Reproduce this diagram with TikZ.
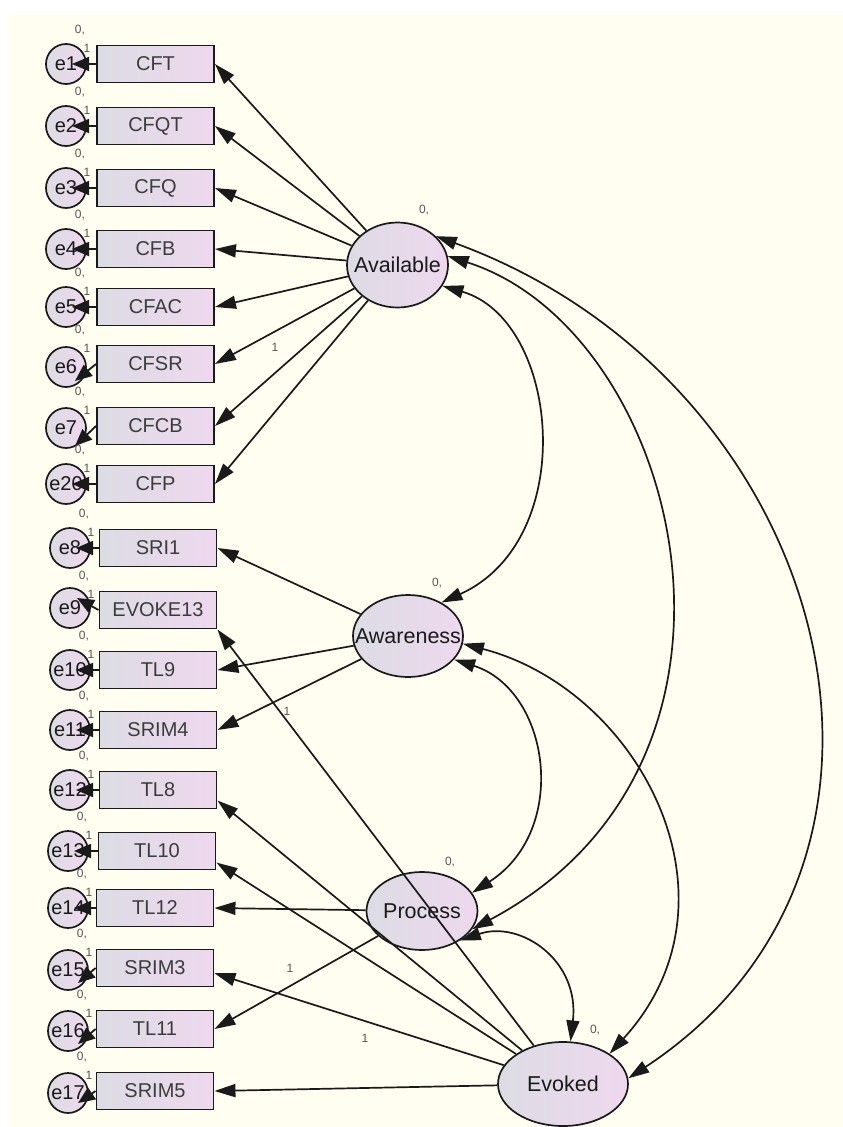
\documentclass[tikz,border=0pt]{standalone}
\usepackage{fontspec}
\setmainfont{Liberation Sans}
\usetikzlibrary{arrows.meta,shapes.geometric}
\definecolor{bg}{HTML}{FFFEF0}
\definecolor{boxL}{HTML}{DCDCE4}
\definecolor{boxR}{HTML}{EED8EE}
\definecolor{ink}{HTML}{1A1A1A}
\definecolor{lab}{HTML}{555555}
\tikzset{
  obs/.style={draw=ink, line width=1.9pt, left color=boxL, right color=boxR,
    minimum width=117pt, minimum height=37pt, inner sep=0pt,
    font=\fontsize{20}{20}\selectfont, text=ink!85},
  lat/.style={ellipse, draw=ink, line width=1.7pt, left color=boxL, right color=boxR,
    inner sep=0pt, font=\fontsize{21.5}{21.5}\selectfont, text=ink},
  err/.style={circle, draw=ink, line width=1.7pt, left color=boxL, right color=boxR,
    minimum size=40pt, inner sep=0pt, font=\fontsize{20}{20}\selectfont, text=ink},
  reg/.style={draw=ink, line width=1.7pt, -{Triangle[length=21pt,width=13pt]}},
  cov/.style={draw=ink, line width=1.7pt,
    {Triangle[length=21pt,width=13pt]}-{Triangle[length=21pt,width=13pt]}},
  errarr/.style={draw=ink, line width=1.8pt, -{Triangle[length=17pt,width=14pt]}},
  sm/.style={font=\fontsize{12}{12}\selectfont, text=lab, inner sep=0pt},
}
\begin{document}
\begin{tikzpicture}[x=1pt,y=-1pt]
\useasboundingbox (0,0) rectangle (843,1127);
\fill[white] (0,0) rectangle (843,1127);
\fill[bg] (8,15) rectangle (843,1127);

% observed variables with their error terms
\foreach \n/\t/\x/\y/\ex/\ey/\tx/\ty/\e in {
  CFT/CFT/155.5/64/66/64/72/64/e1,
  CFQT/CFQT/155.5/126/66/126/72/126/e2,
  CFQ/CFQ/155.5/188/66/188/72/188/e3,
  CFB/CFB/155.5/249/66/249/72/249/e4,
  CFAC/CFAC/155.5/307/66/307/72/307/e5,
  CFSR/CFSR/155.5/364/66/367/75/381/e6,
  CFCB/CFCB/155.5/426/66/428/75/446/e7,
  CFP/CFP/155.5/484/66/484/72/484/e20,
  SRI1/SRI1/158/548/70/548/76/548/e8,
  EVOKE13/EVOKE13/158/610/70/608/77/598/e9,
  TL9/TL9/158/670/70/670/76/670/e10,
  SRIM4/SRIM4/158/730/70/730/76/730/e11,
  TL8/TL8/158/790/70/790/76/790/e12,
  TL10/TL10/157/851/68/851/74/851/e13,
  TL12/TL12/155/908/68/908/74/908/e14,
  SRIM3/SRIM3/155/968/68/970/78/983/e15,
  TL11/TL11/155/1029/68/1031/78/1044/e16,
  SRIM5/SRIM5/155/1091/68/1093/78/1103/e17}{
  \node[obs] (\n) at (\x,\y) {\t};
  \node[err] (E\n) at (\ex,\ey) {\e};
  \node[sm] (Z\n) at (\ex+14,\y-34) {0,};
  \node[sm] (O\n) at (\ex+21,\y-16) {1};
  \coordinate (T\n) at (\tx,\ty);
  \draw[errarr] (\n.west) -- (T\n);
}

% latent variables
\node[lat, minimum width=101pt, minimum height=85pt] (Av) at (397.5,265) {\makebox[0pt]{Available}};
\node[lat, minimum width=110pt, minimum height=82pt] (Aw) at (408,636) {\makebox[0pt]{Awareness}};
\node[lat, minimum width=111pt, minimum height=78pt] (Pr) at (422,911) {\makebox[0pt]{Process}};
\node[lat, minimum width=130pt, minimum height=84pt] (Ev) at (563,1084) {\makebox[0pt]{Evoked}};

\node[sm] (ZAv) at (424,210) {0,};
\node[sm] (ZAw) at (437,583) {0,};
\node[sm] (ZPr) at (450,862) {0,};
\node[sm] (ZEv) at (595,1030) {0,};

% regression paths
\foreach \b in {CFT,CFQT,CFQ,CFB,CFAC,CFSR,CFCB,CFP}{
  \draw[reg] (Av) -- (\b.east);
}
\foreach \b in {SRI1,TL9,SRIM4}{
  \draw[reg] (Aw) -- (\b.east);
}
\draw[reg] (Pr) -- (TL12.east);
\draw[reg] (Pr) -- (TL11.east);
\draw[reg] (Ev) -- (EVOKE13.south east);
\draw[reg] (Ev) -- (TL8.-10);
\draw[reg] (Ev) -- (TL10.-11);
\draw[reg] (Ev) -- (SRIM3.-5);
\draw[reg] (Ev) -- (SRIM5.east);

\node[sm] (P1) at (275,347) {1};
\node[sm] (P2) at (287,711) {1};
\node[sm] (P3) at (290,968) {1};
\node[sm] (P4) at (365,1038) {1};

% covariances
\draw[cov] (Av.37) .. controls (830,380) and (960,860) .. (Ev.5);
\draw[cov] (Av.10) .. controls (680,330) and (790,760) .. (Pr.-20);
\draw[cov] (Av.-25) .. controls (560,320) and (580,540) .. (Aw.45);
\draw[cov] (Aw.-27) .. controls (550,690) and (570,830) .. (Pr.20);
\draw[cov] (Aw.-8) .. controls (640,690) and (750,900) .. (Ev.33);
\draw[cov] (Pr.-38) .. controls (520,920) and (580,960) .. (Ev.80);
\end{tikzpicture}
\end{document}
